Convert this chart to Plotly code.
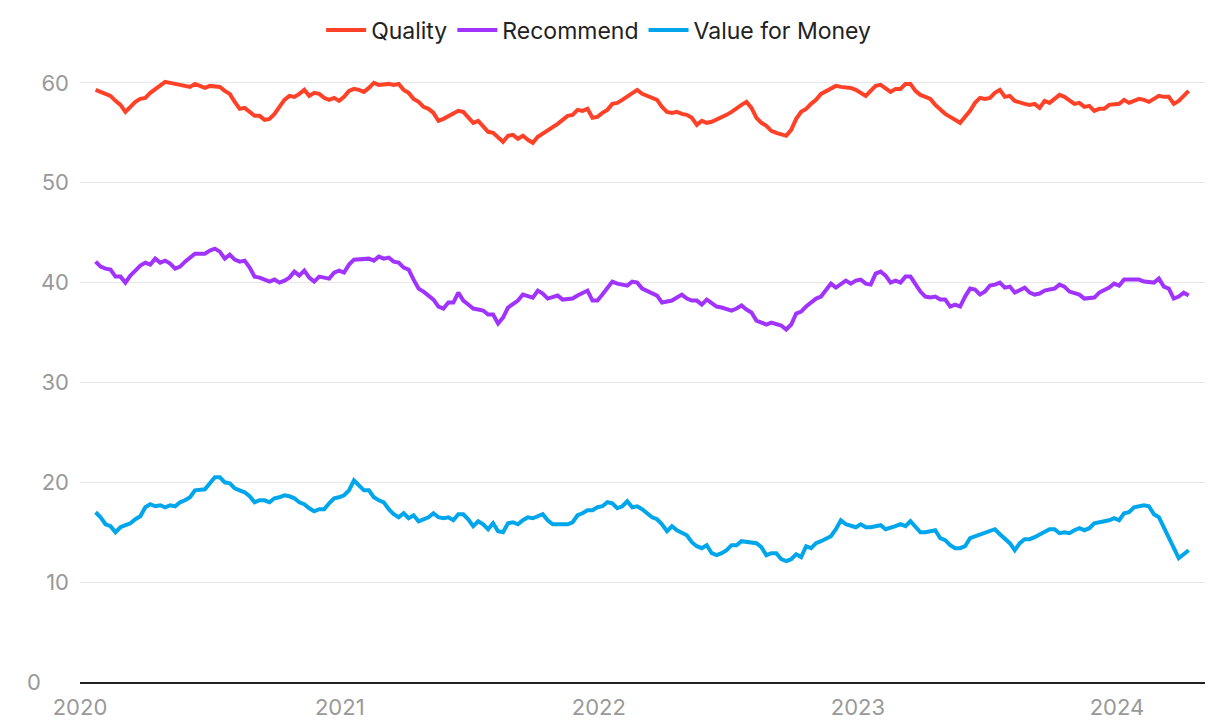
import pandas as pd
import plotly.graph_objects as go

start_date = "2020-01-23"

quality = [
    59.3, 59.1, 58.8, 58.7, 58.2, 57.8, 57.1, 57.6, 58.1, 58.4,
    58.5, 59.0, 59.4, 59.7, 60.1, 60.0, 59.9, 59.8, 59.6, 59.6,
    59.9, 59.7, 59.5, 59.7, 59.7, 59.6, 59.2, 58.9, 58.1, 57.4,
    57.5, 57.1, 56.7, 56.7, 56.3, 56.4, 56.9, 57.6, 58.3, 58.7,
    58.6, 58.9, 59.3, 58.7, 59.0, 58.9, 58.5, 58.3, 58.5, 58.2,
    58.6, 59.2, 59.4, 59.3, 59.1, 59.5, 60.0, 59.8, 59.9, 59.9,
    59.8, 59.9, 59.3, 59.0, 58.4, 58.1, 57.6, 57.4, 57.0, 56.2,
    56.4, 56.7, 56.9, 57.2, 57.1, 56.6, 56.0, 56.2, 55.6, 55.1,
    55.0, 54.5, 54.1, 54.7, 54.8, 54.4, 54.7, 54.3, 54.0, 54.6,
    54.9, 55.2, 55.6, 55.9, 56.3, 56.7, 56.8, 57.3, 57.2, 57.4,
    56.5, 56.6, 57.0, 57.3, 57.9, 58.0, 58.3, 58.6, 59.0, 59.3,
    58.9, 58.7, 58.5, 58.3, 57.6, 57.1, 57.0, 57.1, 56.9, 56.8,
    56.5, 55.8, 56.2, 56.0, 56.1, 56.3, 56.6, 56.8, 57.1, 57.5,
    57.8, 58.1, 57.5, 56.5, 56.0, 55.7, 55.2, 55.0, 54.9, 54.7,
    55.3, 56.4, 57.1, 57.4, 57.9, 58.3, 58.9, 59.2, 59.5, 59.7,
    59.6, 59.6, 59.5, 59.3, 59.0, 58.7, 59.2, 59.7, 59.8, 59.4,
    59.1, 59.4, 59.4, 59.9, 59.9, 59.2, 58.8, 58.6, 58.4, 57.8,
    57.3, 56.9, 56.6, 56.3, 56.0, 56.6, 57.2, 58.0, 58.5, 58.4,
    58.5, 59.0, 59.3, 58.6, 58.7, 58.2, 58.0, 57.9, 57.8, 57.9,
    57.5, 58.2, 58.0, 58.4, 58.8, 58.6, 58.2, 57.9, 58.0, 57.6,
    57.7, 57.2, 57.4, 57.4, 57.8, 57.8, 57.9, 58.3, 58.0, 58.2,
    58.4, 58.3, 58.1, 58.4, 58.7, 58.6, 58.6, 57.9, 58.2, 58.7,
    59.2,
]

recommend = [
    42.1, 41.6, 41.4, 41.3, 40.6, 40.6, 40.0, 40.7, 41.2, 41.7,
    42.0, 41.8, 42.4, 42.0, 42.2, 41.9, 41.4, 41.6, 42.1, 42.5,
    42.9, 42.9, 42.9, 43.2, 43.4, 43.1, 42.4, 42.8, 42.3, 42.1,
    42.2, 41.5, 40.6, 40.5, 40.3, 40.1, 40.3, 40.0, 40.2, 40.5,
    41.1, 40.7, 41.2, 40.5, 40.1, 40.6, 40.5, 40.4, 41.0, 41.2,
    41.0, 41.8, 42.3, 42.3, 42.3, 42.4, 42.2, 42.6, 42.4, 42.5,
    42.1, 42.0, 41.5, 41.3, 40.3, 39.4, 39.1, 38.7, 38.3, 37.6,
    37.4, 38.0, 38.0, 39.0, 38.2, 37.8, 37.4, 37.3, 37.2, 36.8,
    36.8, 35.9, 36.5, 37.5, 37.8, 38.2, 38.8, 38.6, 38.5, 39.2,
    38.9, 38.4, 38.5, 38.7, 38.3, 38.4, 38.4, 38.7, 38.9, 39.2,
    38.2, 38.2, 38.8, 39.5, 40.1, 39.9, 39.8, 39.7, 40.1, 40.0,
    39.4, 39.2, 38.9, 38.7, 38.0, 38.1, 38.2, 38.5, 38.8, 38.4,
    38.2, 38.2, 37.8, 38.3, 37.9, 37.6, 37.5, 37.3, 37.2, 37.4,
    37.7, 37.3, 37.0, 36.2, 36.0, 35.8, 36.0, 35.9, 35.7, 35.3,
    35.8, 36.9, 37.1, 37.6, 38.0, 38.4, 38.6, 39.2, 39.9, 39.5,
    39.8, 40.2, 39.9, 40.2, 40.3, 39.9, 39.8, 40.9, 41.1, 40.7,
    40.0, 40.2, 40.0, 40.6, 40.6, 39.8, 39.1, 38.6, 38.5, 38.6,
    38.3, 38.3, 37.6, 37.8, 37.6, 38.6, 39.4, 39.3, 38.8, 39.1,
    39.7, 39.8, 40.0, 39.5, 39.6, 39.0, 39.3, 39.5, 39.0, 38.8,
    38.9, 39.2, 39.3, 39.4, 39.8, 39.6, 39.1, 39.0, 38.8, 38.4,
    38.4, 38.5, 39.0, 39.2, 39.5, 39.9, 39.7, 40.3, 40.3, 40.4,
    40.3, 40.1, 40.0, 40.0, 40.4, 39.6, 39.4, 38.4, 38.6, 39.0,
    38.7,
]

value_for_money = [
    17.0, 16.5, 15.8, 15.6, 15.0, 15.5, 15.7, 15.9, 16.3, 16.6,
    17.5, 17.8, 17.6, 17.7, 17.5, 17.7, 17.6, 18.0, 18.2, 18.5,
    19.2, 19.2, 19.3, 19.9, 20.5, 20.5, 20.0, 19.9, 19.4, 19.2,
    19.0, 18.6, 18.0, 18.2, 18.2, 18.0, 18.4, 18.5, 18.7, 18.6,
    18.4, 18.0, 17.8, 17.4, 17.1, 17.3, 17.3, 17.9, 18.4, 18.5,
    18.7, 19.2, 20.2, 19.7, 19.2, 19.2, 18.5, 18.2, 18.0, 17.3,
    16.8, 16.5, 16.9, 16.4, 16.7, 16.1, 16.3, 16.5, 16.9, 16.5,
    16.4, 16.5, 16.2, 16.8, 16.8, 16.3, 15.6, 16.1, 15.8, 15.3,
    15.9, 15.1, 15.0, 15.9, 16.0, 15.8, 16.2, 16.5, 16.4, 16.6,
    16.8, 16.2, 15.8, 15.8, 15.8, 15.8, 16.0, 16.7, 16.9, 17.2,
    17.2, 17.5, 17.6, 18.0, 17.9, 17.4, 17.6, 18.1, 17.5, 17.6,
    17.3, 16.9, 16.5, 16.3, 15.8, 15.1, 15.6, 15.2, 14.9, 14.7,
    14.0, 13.6, 13.4, 13.7, 12.9, 12.7, 12.9, 13.2, 13.7, 13.7,
    14.1, 14.0, 13.9, 13.9, 13.5, 12.7, 12.9, 12.9, 12.3, 12.1,
    12.3, 12.8, 12.5, 13.6, 13.4, 13.9, 14.1, 14.3, 14.6, 15.3,
    16.2, 15.8, 15.7, 15.5, 15.8, 15.5, 15.5, 15.6, 15.7, 15.3,
    15.4, 15.6, 15.8, 15.6, 16.1, 15.5, 15.0, 15.0, 15.1, 15.2,
    14.4, 14.2, 13.7, 13.4, 13.4, 13.6, 14.4, 14.6, 14.7, 14.9,
    15.2, 15.3, 14.8, 14.3, 13.9, 13.2, 13.9, 14.3, 14.3, 14.5,
    14.8, 15.0, 15.3, 15.3, 14.9, 15.0, 14.9, 15.2, 15.4, 15.2,
    15.4, 15.9, 16.0, 16.0, 16.2, 16.4, 16.2, 16.9, 17.0, 17.5,
    17.6, 17.7, 17.6, 16.8, 16.5, 15.5, 14.3, 13.3, 12.4, 12.8,
    13.2,
]

series_names = ["Quality", "Recommend", "Value for Money"]
series_colors = ["#FF4128", "#A133FF", "#00A6EB"]
year_ticks = ["2020-01-01", "2021-01-01", "2022-01-01", "2023-01-01", "2024-01-01"]
year_labels = ["2020", "2021", "2022", "2023", "2024"]
y_ticks = [0, 10, 20, 30, 40, 50, 60]
y_labels = ["", "10", "20", "30", "40", "50", "60"]

dates = pd.date_range(start_date, periods=len(quality), freq="7D")

FONT = "Inter, Roboto, sans-serif"

fig = go.Figure()
for name, vals, col in zip(series_names, [quality, recommend, value_for_money], series_colors):
    fig.add_trace(go.Scatter(
        x=dates, y=vals, mode="lines", name=name,
        line=dict(color=col, width=4, shape="linear"),
    ))

fig.update_layout(
    width=1220, height=728,
    margin=dict(l=72, r=23, t=2, b=54),
    paper_bgcolor="white", plot_bgcolor="white",
    font=dict(family=FONT, size=21, color="#999999"),
    showlegend=True,
    legend=dict(
        orientation="h", x=0.461, xanchor="center", y=0.97, yanchor="middle",
        font=dict(family=FONT, size=23, color="#222222"), itemwidth=40,
        bgcolor="rgba(0,0,0,0)",
    ),
    xaxis=dict(
        type="date", range=["2020-01-01", "2024-05-04"],
        tickvals=year_ticks, ticktext=year_labels,
        showgrid=False, zeroline=False, automargin=False,
        showline=True, linecolor="#222222", linewidth=1.5,
        ticks="", tickfont=dict(family=FONT, size=22, color="#999999"),
        ticklabelstandoff=5,
    ),
    yaxis=dict(
        range=[0, 67.2], tickvals=y_ticks, ticktext=y_labels,
        showgrid=True, gridcolor="#E6E6E6", gridwidth=1.2,
        zeroline=False, showline=False, ticks="", automargin=False,
        tickfont=dict(family=FONT, size=22, color="#999999"),
        ticklabelstandoff=10,
    ),
    annotations=[dict(
        text="0", xref="paper", yref="y", x=-0.033, y=0,
        xanchor="right", yanchor="middle", showarrow=False,
        font=dict(family=FONT, size=22, color="#999999"),
    )],
)

fig.write_html("out.html")
